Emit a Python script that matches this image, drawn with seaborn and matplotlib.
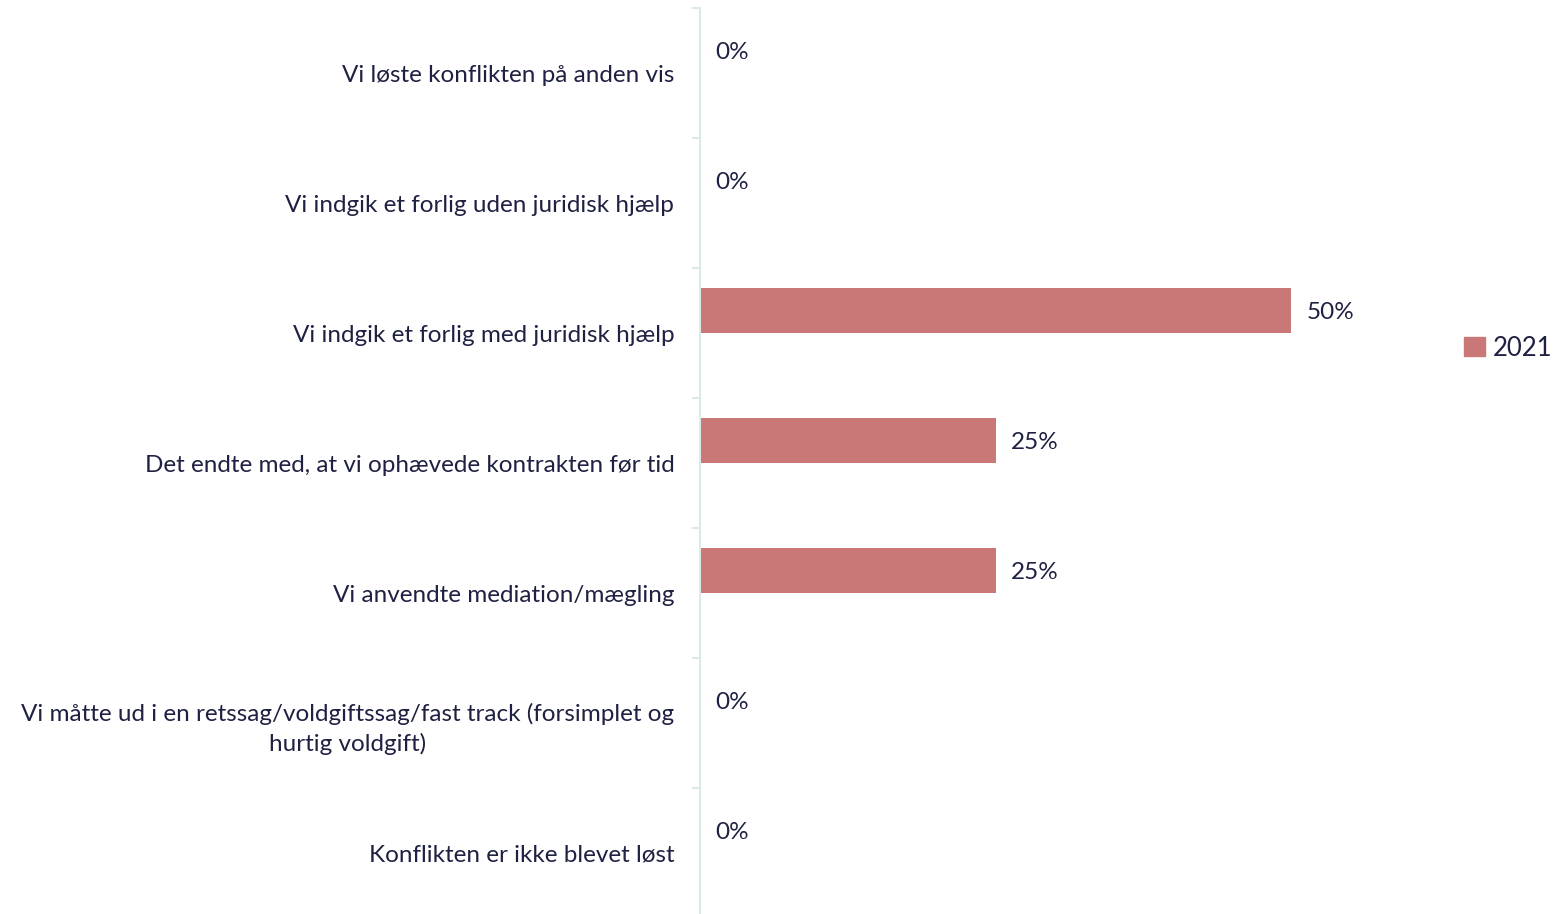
import matplotlib
matplotlib.use("Agg")
import matplotlib.pyplot as plt
import matplotlib.patches as mpatches
import seaborn as sns
import pandas as pd
from matplotlib.ticker import FixedLocator

categories = [
    "Vi løste konflikten på anden vis",
    "Vi indgik et forlig uden juridisk hjælp",
    "Vi indgik et forlig med juridisk hjælp",
    "Det endte med, at vi ophævede kontrakten før tid",
    "Vi anvendte mediation/mægling",
    "Vi måtte ud i en retssag/voldgiftssag/fast track (forsimplet og\nhurtig voldgift)",
    "Konflikten er ikke blevet løst",
]
values_2021 = [0.0, 0.0, 0.50, 0.25, 0.25, 0.0, 0.0]
series_name = "2021"

BAR = "#C97777"
TEXT = "#1F2142"
AXIS = "#DCEAE7"
FONT = "Lato"
FS = 17.5

sns.set_theme(style="white")
plt.rcParams["font.family"] = [FONT, "DejaVu Sans"]

df = pd.DataFrame({"cat": categories, "val": values_2021, "series": series_name})

fig = plt.figure(figsize=(15.65, 9.14), dpi=100)
ax = fig.add_axes([700 / 1565, 1 - 918 / 914, 740 / 1565, 910 / 914])

sns.barplot(data=df, y="cat", x="val", hue="series", hue_order=[series_name, "_blank"],
            palette={series_name: BAR, "_blank": BAR}, order=categories,
            orient="h", width=0.7, dodge=True, legend=False, ax=ax,
            saturation=1, linewidth=0)

ax.set_xlim(0, 740 / 1182)
ax.set_ylim(len(categories) - 0.5, -0.5)

for c in ax.containers:
    if len(c) == 0:
        continue
    texts = ax.bar_label(c, labels=[f"{v:.0%}" for v in values_2021], padding=11,
                         fontsize=FS, color=TEXT, family=[FONT, "DejaVu Sans"])
    for t in texts:
        t.set_va("center_baseline")

ax.set_xlabel("")
ax.set_ylabel("")
ax.set_xticks([])
ax.set_yticks(range(len(categories)))
ax.set_yticklabels(categories, fontsize=FS, color=TEXT, multialignment="center",
                   linespacing=1.45)
ax.tick_params(axis="y", which="major", length=0, pad=18.5)
ax.yaxis.set_minor_locator(FixedLocator([i + 0.5 for i in range(-1, len(categories))]))
ax.tick_params(axis="y", which="minor", length=6, width=1.5, color=AXIS, left=True)

for s in ["top", "right", "bottom"]:
    ax.spines[s].set_visible(False)
ax.spines["left"].set_color(AXIS)
ax.spines["left"].set_linewidth(1.5)

handle = mpatches.Patch(color=BAR, label=series_name)
fig.legend(handles=[handle], loc="center left", bbox_to_anchor=(1464 / 1565, 1 - 348 / 914),
           frameon=False, fontsize=FS + 1, labelcolor=TEXT, handlelength=0.8, handleheight=0.8,
           handletextpad=0.3, borderpad=0, borderaxespad=0)

fig.savefig("out.png", dpi=100)
